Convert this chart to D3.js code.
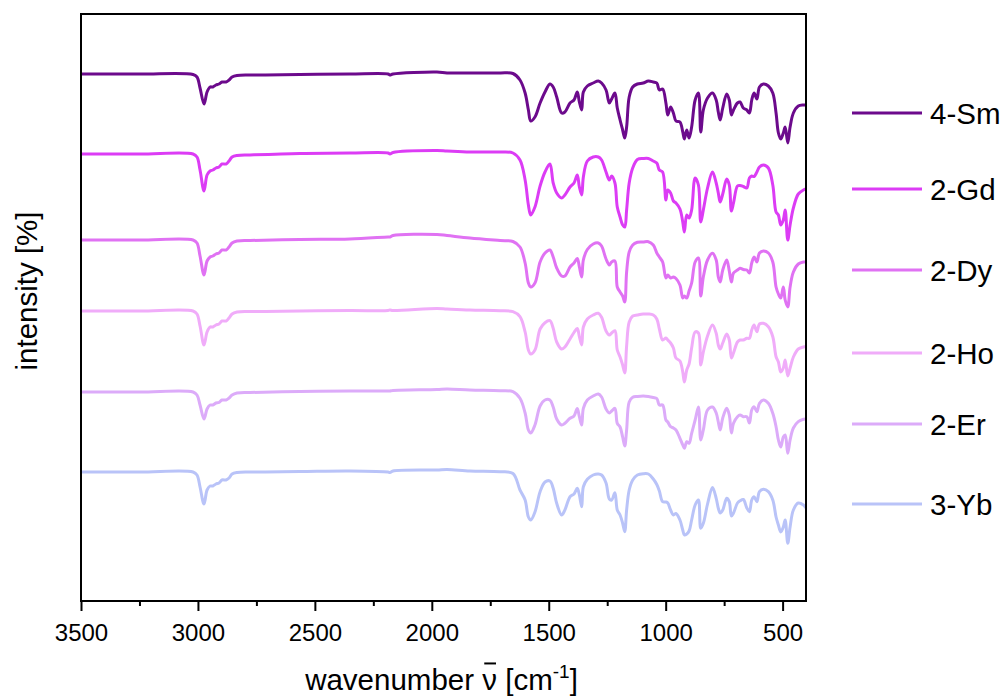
<!DOCTYPE html>
<html>
<head>
<meta charset="utf-8">
<script src="https://cdn.jsdelivr.net/npm/d3@7"></script>
<style>
  html, body { margin: 0; padding: 0; background: #fff; }
  svg { display: block; font-family: "Liberation Sans", Arial, sans-serif; }
</style>
</head>
<body>
<svg id="chart" width="1004" height="698"></svg>
<script>
// Wavenumber grid shared by all spectra (cm^-1)
const wavenumbers = [
  3500, 3248, 3021, 3004, 2991, 2974, 2961, 2948, 2936, 2923, 2910, 2897, 2880, 2867, 2854, 2833,
  2777, 2564, 2350, 2187, 2179, 2166, 1978, 1935, 1837, 1708, 1653,
  1623, 1601, 1587, 1577, 1559, 1537, 1516, 1495, 1481, 1466,
  1445, 1431, 1409, 1392, 1378, 1369, 1359, 1352, 1335, 1310,
  1288, 1274, 1255, 1241, 1231, 1217, 1207, 1195, 1184, 1175,
  1167, 1156, 1141, 1121, 1096, 1074, 1053, 1038, 1027, 1013,
  999, 991, 979, 967, 956, 939, 927, 920, 910, 900,
  889, 874, 860, 850, 839, 821, 800, 784, 775, 767,
  756, 739, 728, 719, 710, 693, 682, 668, 653, 642,
  632, 622, 610, 599, 582, 561, 542, 528, 518, 508,
  497, 489, 478, 468, 454, 433, 411, 400
];

// Transmittance-like intensity [%] for each compound
const sm = [
  100, 100, 99.5, 97, 86, 70, 82, 87, 87, 89, 90, 92, 92, 94, 97, 98.5,
  99, 99.5, 100, 100, 99, 100, 102, 101, 101, 101, 100.5,
  94, 81, 64, 53, 57, 71, 82, 90, 87, 77,
  61, 62, 71, 74, 82, 72, 64, 82, 88, 91,
  93, 91, 84, 71, 75, 81, 66, 54, 44, 36,
  47, 77, 87, 90, 91, 93, 92, 91, 84, 85,
  71, 59, 67, 61, 53, 52, 42, 35, 44, 36,
  47, 74, 81, 42, 64, 76, 81, 74, 62, 54,
  66, 80, 74, 59, 64, 71, 72, 66, 64, 61,
  74, 81, 75, 87, 90, 88, 81, 61, 41, 35,
  41, 47, 31, 47, 61, 68, 69, 69
];
const gd = [
  100, 100, 100, 97, 84, 63, 79, 83, 84, 86, 87, 90, 90, 93, 97, 98.5,
  99, 100.5, 101, 101, 100, 101.5, 103.5, 103, 102, 102, 101,
  94, 74, 49, 39, 47, 68, 82, 90, 71, 61,
  56, 59, 67, 71, 79, 67, 59, 77, 93, 97,
  97, 94, 82, 74, 78, 71, 47, 37, 29, 27,
  44, 71, 86, 94.5, 95.5, 95.5, 93, 91, 84, 82,
  54, 64, 61, 53, 51, 45, 32, 22, 39, 36,
  44, 76, 69, 32, 44, 66, 82, 71, 61, 52,
  60, 75, 69, 43, 51, 68, 68.5, 67.5, 66, 76,
  78, 77.5, 82, 87, 89, 86, 69, 42, 39, 29,
  34, 44, 14, 29, 46, 60, 64, 65
];
const dy = [
  100, 100, 100, 97, 84, 65, 79, 83, 84, 86, 87, 90, 90, 93, 97, 99,
  99.5, 100.5, 101, 103, 103, 104.5, 105.5, 104.5, 102, 99.5, 98.5,
  93, 77, 57, 53, 57, 78, 87, 90, 83, 72,
  64, 64, 73, 77, 81.5, 73, 63, 80, 90.5, 96,
  97, 94, 81, 75, 78, 79, 53, 48, 44, 38,
  68, 88, 95, 97.7, 98, 98.3, 95, 87, 83, 78,
  62, 65, 62, 63, 61.5, 55, 42, 44, 42, 49,
  57, 78, 82, 44, 63, 80, 86.7, 80, 63, 58,
  70, 80, 69, 58, 67, 70, 71.7, 70.5, 70, 67,
  77, 83, 78, 87, 89, 87, 78, 53, 46, 42,
  53, 40, 33, 53, 68, 76, 78, 78
];
const ho = [
  100, 100, 100, 97, 85, 66, 79, 84, 84, 86, 87, 90, 90, 93, 97, 99,
  99.5, 100, 100.5, 100.5, 101, 100.5, 102.5, 102, 101, 100.3, 99.3,
  94.3, 79, 61, 57, 61, 82, 88.3, 90.3, 82.7, 69,
  62, 64, 72, 78.5, 82.5, 74.3, 66, 84, 92, 96,
  97.7, 93.7, 80, 76, 78, 80.3, 61, 54, 46, 38,
  65, 89, 95, 96, 97, 97, 96, 92, 82, 71,
  73, 71, 68, 63, 53, 50, 39, 29, 41, 47,
  63, 79, 78, 46, 59, 75, 86, 77.7, 66, 62,
  68, 77, 71, 53, 58, 69, 71, 71, 72.7, 72.7,
  81, 86, 79.3, 87, 87.7, 84.3, 74.3, 54.3, 49, 39,
  43, 51, 35, 43, 54, 62, 64, 64.5
];
const er = [
  100, 100, 100, 97, 87, 73, 83, 87, 87, 89, 89.5, 92, 92, 94, 97, 99,
  99.5, 100.5, 101, 101, 101, 101.5, 102.5, 103, 102, 101.3, 100.3,
  93.7, 79, 62, 59, 67, 86, 92, 92, 85, 73,
  67, 68.7, 73.7, 76, 83.5, 75.3, 67, 83.7, 92, 96,
  98, 95, 83, 79, 81, 83.7, 68.7, 65, 55, 46,
  62, 90, 94.7, 95.5, 96, 95.5, 94.5, 93.5, 87, 87,
  72, 70, 65.3, 64, 62, 53.7, 47, 43.7, 50.3, 48.7,
  58.7, 72, 85, 52, 62, 82, 85, 79, 70, 62,
  74, 83.7, 77, 59, 68.7, 75.3, 77, 75.3, 75.3, 69,
  82, 85.3, 80.3, 88.7, 92, 88.7, 78.7, 65.3, 52, 45,
  55, 57, 38.7, 52, 64, 70.3, 72.7, 73
];
const yb = [
  100, 100, 100, 97, 85, 68, 82, 86, 86, 88, 89, 92, 92, 94, 98, 99.5,
  100, 100.5, 101, 100, 99.5, 101, 102, 102.5, 101, 100.3, 98.5,
  82, 72, 55, 52, 60, 80.3, 90, 91, 83.7, 68.7,
  57, 62, 75.3, 78, 83.7, 77, 65.3, 85.3, 92.7, 97,
  98, 97, 89, 73, 72, 79.3, 62, 57, 48.7, 40.3,
  62, 82, 92, 97, 98.3, 98, 93, 87.5, 81, 70.3,
  70, 69, 62, 57, 58.5, 52, 42, 37, 38, 41,
  52, 67, 72, 43.7, 48.7, 68, 84.5, 73.7, 63.7, 59,
  62, 73.7, 70.3, 56, 59, 69, 71.2, 72.5, 64, 60.3,
  72, 75.3, 70.3, 80.3, 82.7, 80.3, 72, 55, 47, 40,
  45, 52, 28.7, 45, 62, 69, 67, 64
];

const seriesNames = ["4-Sm", "2-Gd", "2-Dy", "2-Ho", "2-Er", "3-Yb"];
const seriesValues = [sm, gd, dy, ho, er, yb];
// vertical stacking offset added to each spectrum
const stackOffsets = [427, 347, 261, 190, 109, 29];

const xMajorTicks = [3500, 3000, 2500, 2000, 1500, 1000, 500];
const xMinorTicks = [3250, 2750, 2250, 1750, 1250, 750];

// ---- layout & style ----
const colors = ["#6c0a8c", "#dc3cf5", "#e072f3", "#f0acf9", "#dcabf9", "#b9c3f8"];
const legendY = [113, 189, 270, 353, 424, 504];
const margin = { left: 81, right: 198, top: 14, bottom: 97 };
const W = 1004, H = 698;
const innerW = W - margin.left - margin.right;
const innerH = H - margin.top - margin.bottom;
const font = '"Liberation Sans", Arial, sans-serif';
const labelSize = 29.5;

const svg = d3.select("#chart");

const x = d3.scaleLinear().domain([3500, 400]).range([margin.left, margin.left + innerW]);
const y = d3.scaleLinear().domain([0, 587]).range([margin.top + innerH, margin.top]);

const clipId = "plot-clip";
svg.append("defs").append("clipPath").attr("id", clipId)
  .append("rect")
  .attr("x", margin.left).attr("y", margin.top)
  .attr("width", innerW).attr("height", innerH);

const line = d3.line()
  .x((d) => x(d.wn))
  .y((d) => y(d.v))
  .curve(d3.curveCatmullRom.alpha(0.5));

const plot = svg.append("g").attr("clip-path", `url(#${clipId})`);

seriesNames.forEach((name, i) => {
  const pts = wavenumbers.map((wn, j) => ({ wn, v: seriesValues[i][j] + stackOffsets[i] }));
  plot.append("path")
    .datum(pts)
    .attr("fill", "none")
    .attr("stroke", colors[i])
    .attr("stroke-width", 3)
    .attr("stroke-linejoin", "round")
    .attr("stroke-linecap", "round")
    .attr("d", line);
});

// frame
svg.append("rect")
  .attr("x", margin.left).attr("y", margin.top)
  .attr("width", innerW).attr("height", innerH)
  .attr("fill", "none").attr("stroke", "#000").attr("stroke-width", 2);

// x axis: major ticks with labels
const xAxis = svg.append("g")
  .attr("transform", `translate(0,${margin.top + innerH})`)
  .call(d3.axisBottom(x).tickValues(xMajorTicks).tickSize(10).tickPadding(13).tickFormat(d3.format("d")));
xAxis.select(".domain").remove();
xAxis.selectAll(".tick line").attr("stroke", "#000").attr("stroke-width", 2);
xAxis.selectAll(".tick text")
  .attr("fill", "#000")
  .style("font-family", font)
  .style("font-size", "24px");

// x axis: minor ticks
const xMinor = svg.append("g")
  .attr("transform", `translate(0,${margin.top + innerH})`)
  .call(d3.axisBottom(x).tickValues(xMinorTicks).tickSize(5).tickFormat(""));
xMinor.select(".domain").remove();
xMinor.selectAll(".tick line").attr("stroke", "#000").attr("stroke-width", 2);

// x axis title: wavenumber, nu with an overbar, [cm^-1]
const titleBaseline = 690;
const xt = svg.append("text")
  .attr("x", margin.left + innerW / 2 - 2)
  .attr("y", titleBaseline)
  .attr("text-anchor", "middle")
  .style("font-family", font)
  .style("font-size", labelSize + "px")
  .attr("fill", "#000");
xt.append("tspan").text("wavenumber ");
xt.append("tspan").text("\u03BD");
xt.append("tspan").text(" [cm");
xt.append("tspan").attr("dy", -12).style("font-size", "19px").text("-1");
xt.append("tspan").attr("dy", 12).text("]");

// overbar above the nu glyph
const nuIndex = "wavenumber ".length;
const node = xt.node();
const nuStart = node.getStartPositionOfChar(nuIndex).x;
const nuEnd = node.getEndPositionOfChar(nuIndex).x;
svg.append("line")
  .attr("x1", nuStart + 2).attr("x2", nuEnd - 1)
  .attr("y1", titleBaseline - labelSize * 0.9)
  .attr("y2", titleBaseline - labelSize * 0.9)
  .attr("stroke", "#000").attr("stroke-width", 2);

// y axis title
svg.append("text")
  .attr("transform", "translate(37,291) rotate(-90)")
  .attr("text-anchor", "middle")
  .style("font-family", font)
  .style("font-size", labelSize + "px")
  .attr("fill", "#000")
  .text("intensity [%]");

// legend
const legend = svg.append("g");
seriesNames.forEach((name, i) => {
  const g = legend.append("g").attr("transform", `translate(0,${legendY[i]})`);
  g.append("line")
    .attr("x1", 852).attr("x2", 922)
    .attr("stroke", colors[i]).attr("stroke-width", 3);
  g.append("text")
    .attr("x", 930).attr("y", 10.5)
    .style("font-family", font)
    .style("font-size", labelSize + "px")
    .attr("fill", "#000")
    .text(name);
});
</script>
</body>
</html>
